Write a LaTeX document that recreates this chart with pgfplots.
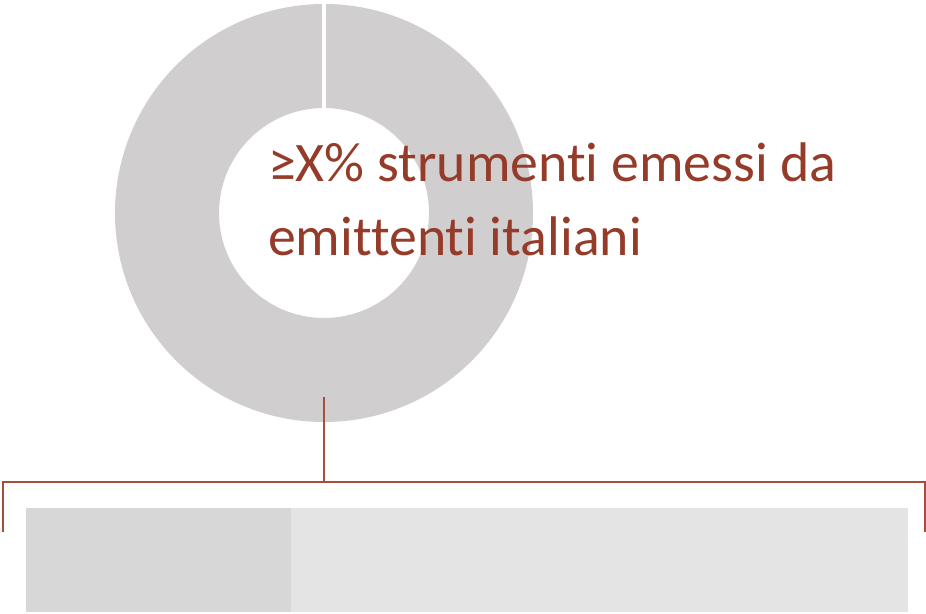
\documentclass[border=0pt]{standalone}
\usepackage{pgfplots}
\pgfplotsset{compat=1.18}
\usepackage{pgfplotstable}
\usetikzlibrary{calc}
\usepackage{fontspec}
\setmainfont{Carlito}[Ligatures={NoCommon,NoContextual}]
\definecolor{donutgray}{HTML}{D0CECF}
\definecolor{txtred}{HTML}{953B29}
\definecolor{linered}{HTML}{A34F3C}
\definecolor{barA}{HTML}{D7D7D7}
\definecolor{barB}{HTML}{E4E4E4}
% donut: one slice covering the whole ring (value in percent)
\pgfplotstableread{
slice value
A 100
}\donuttable
\pgfplotstableread{
y segA segB
54 30 70
}\bartable
\begin{document}
\begin{tikzpicture}
\useasboundingbox (0,0) rectangle (926bp,614bp);
\begin{axis}[
  at={(0,0)}, anchor=south west,
  scale only axis, width=926bp, height=614bp,
  xmin=0, xmax=926, ymin=0, ymax=614,
  hide axis, clip=false]
  \pgfplotstablegetelem{0}{value}\of\donuttable
  \pgfmathsetmacro{\endang}{90-3.6*\pgfplotsretval}
  % ring (centre 324,401; radii 209 and 105)
  \fill[donutgray]
    ($(axis cs:324,401)+(90:209bp)$) arc[start angle=90, end angle=\endang, radius=209bp]
    -- ($(axis cs:324,401)+(\endang:105bp)$) arc[start angle=\endang, end angle=90, radius=105bp] -- cycle;
  % slice separator
  \draw[white, line width=4bp] ($(axis cs:324,401)+(90:103bp)$) -- ($(axis cs:324,401)+(90:212bp)$);
  % connector and bracket
  \draw[linered, line width=1.6bp] (axis cs:324,217) -- (axis cs:324,132);
  \draw[linered, line width=1.6bp] (axis cs:3,82) -- (axis cs:3,132) -- (axis cs:925,132) -- (axis cs:925,82);
  % labels
  \node[anchor=base west, inner sep=0pt, text=txtred, font=\fontsize{56}{66}\selectfont] at (axis cs:268,432.3) {≥X\% strumenti emessi da};
  \node[anchor=base west, inner sep=0pt, text=txtred, font=\fontsize{56}{66}\selectfont] at (axis cs:268,358) {emittenti italiani};
\end{axis}
\begin{axis}[
  at={(26bp,0)}, anchor=south west,
  scale only axis, width=882bp, height=108bp,
  xmin=0, xmax=100, ymin=0, ymax=108,
  hide axis, clip=false,
  xbar stacked, bar width=104.6bp]
  \addplot[fill=barA, draw=none] table[x=segA, y=y] {\bartable};
  \addplot[fill=barB, draw=none] table[x=segB, y=y] {\bartable};
\end{axis}
\end{tikzpicture}
\end{document}
